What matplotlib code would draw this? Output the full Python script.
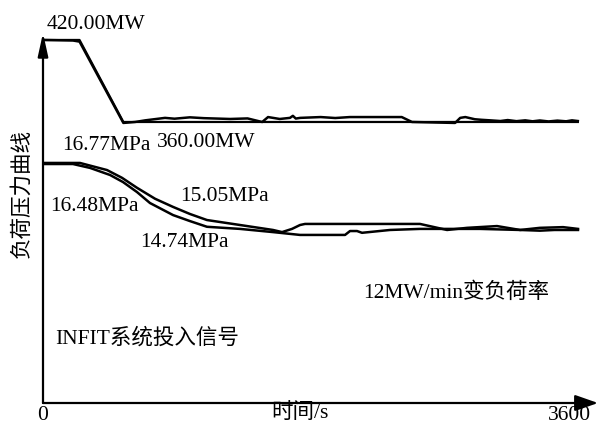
import matplotlib
matplotlib.use('Agg')
import matplotlib.pyplot as plt

plt.rcParams['font.family'] = ['Liberation Serif', 'Noto Sans CJK SC']
plt.rcParams['font.size'] = 15.5

# 负荷曲线 (s, MW)
load_t = [0, 205, 250, 550, 630, 700, 835, 900, 1005, 1100, 1280, 1400, 1480, 1500,
          1540, 1620, 1690, 1710, 1730, 1760, 1900, 2000, 2100, 2300, 2455, 2525,
          2820, 2855, 2890, 2955, 3000, 3060, 3130, 3180, 3240, 3300, 3350, 3400,
          3460, 3520, 3580, 3620, 3660]
load_mw = [420, 419.6, 418.8, 359.3, 360, 361.2, 363, 362.4, 363.4, 362.8, 362.2,
           362.6, 360.5, 360, 363.6, 362.2, 363, 364.5, 362.5, 363, 363.6, 362.9,
           363.6, 363.6, 363.6, 360, 359.3, 363, 363.6, 362, 361.6, 361.2, 360.7,
           361.4, 360.6, 361.2, 360.5, 361.1, 360.4, 361.0, 360.5, 361.2, 360.7]

# 负荷指令
load_set_t = [0, 250, 550, 3660]
load_set = [420, 420, 360, 360]

# 主汽压力实际值 (s, MPa)
p1_t = [0, 205, 322, 459, 548, 643, 732, 890, 1006, 1122, 1348, 1574, 1759, 2067,
        2101, 2149, 2183, 2375, 2580, 2765, 2991, 3265, 3400, 3500, 3661]
p1 = [16.74, 16.74, 16.63, 16.43, 16.23, 15.95, 15.64, 15.30, 15.13, 14.97, 14.91,
      14.82, 14.74, 14.74, 14.85, 14.85, 14.80, 14.88, 14.91, 14.91, 14.91, 14.88,
      14.86, 14.88, 14.88]

# 主汽压力设定值 (s, MPa)
p2_t = [0, 253, 438, 541, 643, 767, 890, 1006, 1122, 1348, 1574, 1636, 1704, 1759,
        1793, 2580, 2765, 2902, 3107, 3265, 3400, 3559, 3661]
p2 = [16.77, 16.77, 16.57, 16.35, 16.07, 15.76, 15.53, 15.33, 15.16, 15.02, 14.88,
      14.82, 14.91, 15.02, 15.05, 15.05, 14.88, 14.94, 14.99, 14.88, 14.94, 14.96, 14.91]

fig = plt.figure(figsize=(6.0, 4.26), dpi=100)
ax = fig.add_axes([43 / 600, 23 / 426, 555 / 600, 370 / 426])
ax2 = ax.twinx()

ax.plot(load_set_t, load_set, color='black', lw=1.6)
ax.plot(load_t, load_mw, color='black', lw=1.8)
ax2.plot(p2_t, p2, color='black', lw=1.8)
ax2.plot(p1_t, p1, color='black', lw=1.8)

ax.set_xlim(0, 3798)
ax.set_ylim(154.4, 425.1)
ax2.set_ylim(10.0, 20.435)

for a in (ax, ax2):
    for s in a.spines.values():
        s.set_visible(False)
    a.set_yticks([])
ax2.tick_params(axis='x', length=0)

ax.set_xticks([0, 3600])
ax.set_xticklabels(['0', '3600'])
ax.tick_params(axis='x', length=0, pad=2, labelsize=15.5)

# 坐标轴箭头
ax.annotate('', xy=(0, 1.0), xytext=(0, 0), xycoords='axes fraction',
            arrowprops=dict(arrowstyle='-|>,head_length=1.0,head_width=0.22',
                            lw=1.6, color='black', mutation_scale=14,
                            shrinkA=0, shrinkB=0))
ax.annotate('', xy=(1.0, 0), xytext=(0, 0), xycoords='axes fraction',
            arrowprops=dict(arrowstyle='-|>,head_length=1.0,head_width=0.35',
                            lw=1.6, color='black', mutation_scale=14,
                            shrinkA=0, shrinkB=0))

tr = ax.transAxes
ax.text(0.007, 1.024, '420.00MW', transform=tr, va='center')
ax.text(0.034, 0.697, '16.77MPa', transform=tr, va='center')
ax.text(0.205, 0.703, '360.00MW', transform=tr, va='center')
ax.text(0.247, 0.559, '15.05MPa', transform=tr, va='center')
ax.text(0.0126, 0.530, '16.48MPa', transform=tr, va='center')
ax.text(0.175, 0.435, '14.74MPa', transform=tr, va='center')
ax.text(0.577, 0.297, '12MW/min变负荷率', transform=tr, va='center')
ax.text(0.0216, 0.176, 'INFIT系统投入信号', transform=tr, va='center')
ax.text(0.463, -0.027, '时间/s', transform=tr, ha='center', va='center')
ax.text(-0.038, 0.565, '负荷压力曲线', transform=tr, ha='center', va='center',
        rotation=90)

fig.savefig('out.png', dpi=100)
